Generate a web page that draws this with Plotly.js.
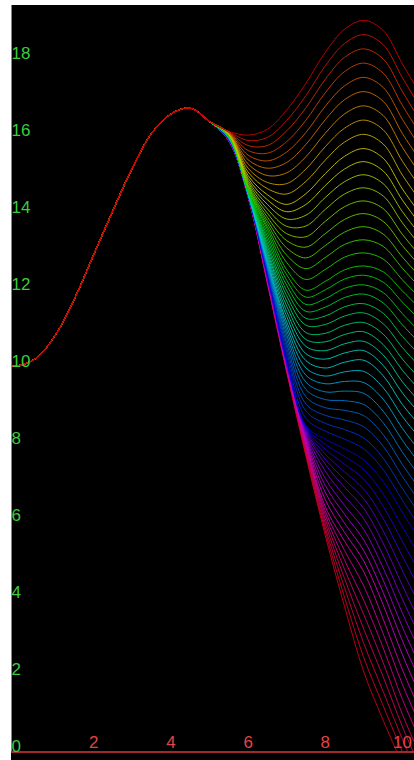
<!DOCTYPE html>
<html><head><meta charset="utf-8">
<script src="https://cdn.plot.ly/plotly-3.0.1.min.js"></script>
<style>
html,body{margin:0;padding:0;background:#fff;overflow:hidden}
#chart{position:absolute;left:11px;top:5px;width:403px;height:755px}
</style>
</head><body><div id="chart"></div>
<script>
// shared rising section, identical for every curve
const baseX = [-0.2, 0, 0.5, 1, 1.5, 2, 2.5, 3, 3.5, 4, 4.5, 5];
const baseY = [10.0, 10.0, 10.2, 10.8, 11.75, 12.9, 14.05, 15.15, 16.05, 16.55, 16.7, 16.35];

// fan section: one array per x column, 56 curves each, ordered top (0) to bottom (55)
const fanX = [5.5, 6, 6.5, 7, 7.5, 8, 8.5, 9, 9.5, 10, 10.5];
const y5_5 = [16.10,16.09,16.08,16.08,16.07,16.06,16.05,16.05,16.04,16.03,
  16.02,16.02,16.01,16.01,16.00,16.00,15.99,15.99,15.98,
  15.98,15.97,15.97,15.96,15.96,15.95,15.95,15.94,15.94,15.93,
  15.93,15.92,15.92,15.91,15.91,15.90,15.90,15.89,15.89,
  15.89,15.88,15.88,15.88,15.88,
  15.87,15.87,15.87,15.87,15.86,15.86,
  15.86,15.86,15.86,15.85,15.85,15.85,15.85];
const y6 = [16.00,15.86,15.73,15.60,15.48,15.36,15.25,15.14,15.04,14.95,
  14.88,14.82,14.77,14.72,14.68,14.65,14.62,14.60,14.58,
  14.56,14.55,14.53,14.52,14.51,14.50,14.49,14.48,14.48,14.47,
  14.47,14.46,14.46,14.45,14.45,14.44,14.44,14.43,14.43,
  14.43,14.43,14.42,14.42,14.42,
  14.42,14.42,14.42,14.41,14.41,14.41,
  14.41,14.41,14.40,14.40,14.40,14.40,14.40];
const y6_5 = [16.15,15.94,15.73,15.53,15.33,15.14,14.95,14.77,14.61,14.45,
  14.32,14.20,14.08,13.97,13.87,13.78,13.70,13.62,13.55,
  13.46,13.37,13.28,13.19,13.11,13.03,12.96,12.89,12.82,12.75,
  12.70,12.65,12.61,12.57,12.53,12.49,12.46,12.43,12.40,
  12.38,12.36,12.34,12.32,12.30,
  12.29,12.27,12.26,12.25,12.23,12.22,
  12.21,12.20,12.19,12.18,12.17,12.16,12.15];
const y7 = [16.65,16.38,16.11,15.83,15.56,15.29,15.02,14.74,14.47,14.20,
  14.01,13.82,13.63,13.44,13.26,13.07,12.88,12.69,12.50,
  12.37,12.23,12.10,11.96,11.83,11.69,11.56,11.42,11.29,11.15,
  11.04,10.93,10.82,10.71,10.59,10.48,10.37,10.26,10.15,
  10.13,10.11,10.09,10.07,10.05,
  10.03,10.02,10.00,9.98,9.97,9.95,
  9.94,9.92,9.91,9.89,9.88,9.86,9.85];
const y7_5 = [17.35,17.03,16.71,16.39,16.07,15.76,15.44,15.12,14.80,14.48,
  14.20,13.92,13.64,13.36,13.09,12.81,12.53,12.25,11.97,
  11.79,11.60,11.42,11.24,11.06,10.87,10.69,10.51,10.32,10.14,
  9.95,9.76,9.58,9.39,9.20,9.01,8.83,8.64,8.45,
  8.42,8.39,8.36,8.33,8.30,
  8.25,8.20,8.15,8.10,8.05,8.00,
  7.95,7.90,7.85,7.80,7.75,7.70,7.65];
const y8 = [18.15,17.80,17.45,17.10,16.75,16.40,16.05,15.70,15.35,15.00,
  14.69,14.38,14.07,13.76,13.44,13.13,12.82,12.51,12.20,
  11.98,11.75,11.53,11.30,11.08,10.85,10.63,10.40,10.18,9.95,
  9.74,9.54,9.33,9.13,8.92,8.72,8.51,8.31,8.10,
  7.97,7.84,7.71,7.58,7.45,
  7.27,7.08,6.90,6.72,6.53,6.35,
  6.24,6.14,6.03,5.92,5.81,5.71,5.60];
const y8_5 = [18.75,18.38,18.02,17.65,17.28,16.92,16.55,16.18,15.82,15.45,
  15.12,14.79,14.47,14.14,13.81,13.48,13.16,12.83,12.50,
  12.26,12.02,11.78,11.54,11.30,11.06,10.82,10.58,10.34,10.10,
  9.85,9.60,9.35,9.10,8.85,8.60,8.35,8.10,7.85,
  7.65,7.45,7.25,7.05,6.85,
  6.62,6.38,6.15,5.92,5.68,5.45,
  5.21,4.96,4.72,4.48,4.24,3.99,3.75];
const y9 = [18.98,18.61,18.24,17.87,17.50,17.13,16.76,16.39,16.02,15.65,
  15.31,14.97,14.63,14.29,13.96,13.62,13.28,12.94,12.60,
  12.36,12.11,11.87,11.62,11.38,11.13,10.89,10.64,10.40,10.15,
  9.86,9.57,9.29,9.00,8.71,8.42,8.13,7.85,7.56,
  7.31,7.06,6.80,6.55,6.30,
  6.03,5.75,5.48,5.20,4.93,4.65,
  4.28,3.91,3.54,3.16,2.79,2.42,2.05];
const y9_5 = [18.72,18.35,17.98,17.61,17.24,16.88,16.51,16.14,15.77,15.40,
  15.07,14.74,14.42,14.09,13.76,13.43,13.11,12.78,12.45,
  12.18,11.91,11.64,11.37,11.10,10.83,10.56,10.29,10.02,9.75,
  9.44,9.14,8.83,8.53,8.22,7.92,7.61,7.31,7.00,
  6.68,6.36,6.04,5.72,5.40,
  5.08,4.76,4.44,4.12,3.80,3.43,
  3.05,2.68,2.30,1.93,1.55,1.18,0.80];
const y10 = [17.85,17.49,17.13,16.77,16.41,16.04,15.68,15.32,14.96,14.60,
  14.31,14.01,13.72,13.42,13.13,12.83,12.54,12.24,11.95,
  11.66,11.36,11.07,10.77,10.48,10.18,9.89,9.59,9.30,9.00,
  8.69,8.38,8.07,7.76,7.44,7.13,6.82,6.51,6.20,
  5.82,5.44,5.06,4.68,4.30,
  3.94,3.58,3.22,2.86,2.50,2.11,
  1.73,1.34,0.95,0.63,0.30,-0.03,-0.35];
const y10_5 = [17.00,16.66,16.31,15.97,15.62,15.28,14.93,14.59,14.24,13.90,
  13.63,13.36,13.08,12.81,12.54,12.27,11.99,11.72,11.45,
  11.15,10.84,10.54,10.23,9.93,9.62,9.32,9.01,8.71,8.40,
  8.07,7.73,7.40,7.07,6.73,6.40,6.07,5.73,5.40,
  4.97,4.54,4.11,3.68,3.25,
  2.87,2.49,2.11,1.73,1.35,0.96,
  0.58,0.19,-0.20,-0.53,-0.85,-1.18,-1.50];

const fanCols = [y5_5, y6, y6_5, y7, y7_5, y8, y8_5, y9, y9_5, y10, y10_5];
const xTicks = [2, 4, 6, 8, 10];
const yTicks = [0, 2, 4, 6, 8, 10, 12, 14, 16, 18];

const N = y9.length;
const hueColor = k => `hsl(${Math.round(360 * k / N)},100%,40%)`;
const traces = [];
// lowest curve first so the top (red) curve ends up drawn last
for (let k = N - 1; k >= 0; k--) {
  traces.push({
    x: baseX.concat(fanX),
    y: baseY.concat(fanCols.map(col => col[k])),
    type: 'scatter', mode: 'lines',
    line: {color: hueColor(k), width: 0.9, shape: 'spline'},
    hoverinfo: 'skip'
  });
}
// shared section once more on top, in the first curve's colour
traces.push({
  x: baseX, y: baseY, type: 'scatter', mode: 'lines',
  line: {color: hueColor(0), width: 1.1, shape: 'spline'},
  hoverinfo: 'skip'
});

const layout = {
  paper_bgcolor: '#000', plot_bgcolor: '#000',
  margin: {l: 1, r: 0, t: 0, b: 9},
  showlegend: false,
  font: {family: 'Liberation Sans Narrow, Arial Narrow, Liberation Sans, sans-serif', size: 17},
  xaxis: {
    range: [-0.12, 10.3], tickvals: xTicks, showgrid: false, zeroline: false,
    showline: true, linecolor: '#a02a2a', linewidth: 2,
    ticks: '', ticklabelposition: 'inside', ticklabeloverflow: 'allow',
    tickfont: {color: '#e04545'}
  },
  yaxis: {
    range: [0, 19.38], tickvals: yTicks, showgrid: false, zeroline: false,
    showline: true, linecolor: '#22cc22', linewidth: 1,
    ticks: '', ticklabelposition: 'inside', ticklabelshift: -5, ticklabeloverflow: 'allow',
    tickfont: {color: '#3ccc3c'}
  }
};
Plotly.newPlot('chart', traces, layout, {staticPlot: true});
</script>
</body></html>
